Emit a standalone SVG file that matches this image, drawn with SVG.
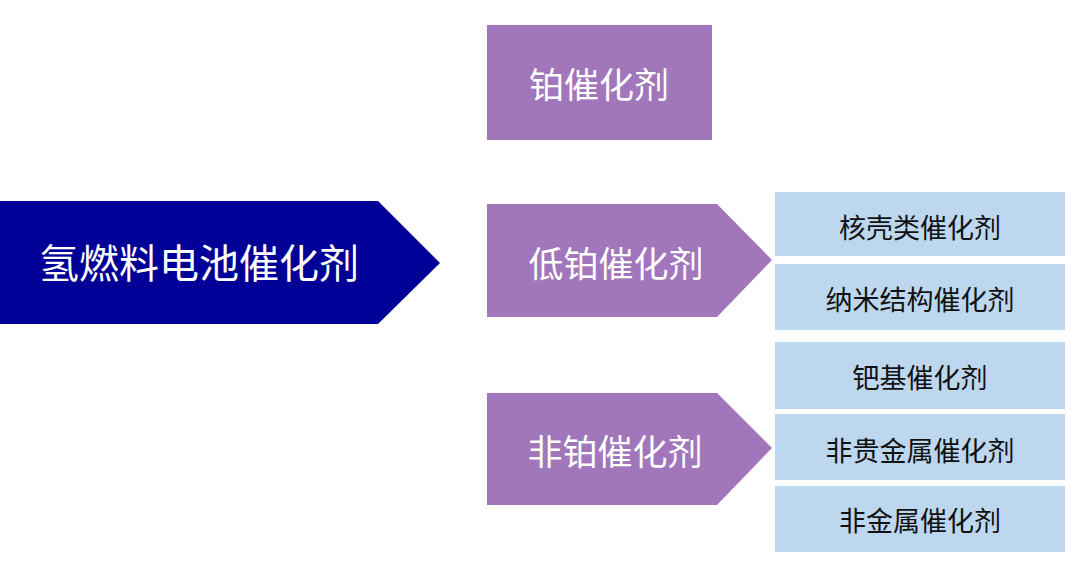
<svg xmlns="http://www.w3.org/2000/svg" width="1080" height="563" viewBox="0 0 1080 563">
<style>
text{font-family:"Noto Sans CJK SC","Microsoft YaHei",sans-serif;text-anchor:middle;dominant-baseline:central}
.main{fill:#000096}
.pur{fill:#A276BA}
.blue{fill:#BDD7EE}
.wt{fill:#ffffff}
.dk{fill:#111111;font-size:27px}
</style>
<rect width="1080" height="563" fill="#ffffff"/>
<g id="main">
<polygon class="main" points="0,201 378,201 440,263 378,324 0,324"/>
<text class="wt" x="199" y="261" font-size="40">氢燃料电池催化剂</text>
</g>
<g id="pt">
<rect class="pur" x="487" y="25" width="225" height="115"/>
<text class="wt" x="599" y="82" font-size="35">铂催化剂</text>
</g>
<g id="lowpt">
<polygon class="pur" points="487,204 717,204 772,260 717,317 487,317"/>
<text class="wt" x="616" y="261" font-size="35">低铂催化剂</text>
</g>
<g id="nonpt">
<polygon class="pur" points="487,393 717,393 772,448 717,505 487,505"/>
<text class="wt" x="615" y="449" font-size="35">非铂催化剂</text>
</g>
<g id="coreshell">
<rect class="blue" x="775" y="192" width="290" height="64"/>
<text class="dk" x="920" y="226">核壳类催化剂</text>
</g>
<g id="nano">
<rect class="blue" x="775" y="264" width="290" height="66"/>
<text class="dk" x="920" y="298">纳米结构催化剂</text>
</g>
<g id="pd">
<rect class="blue" x="775" y="342" width="290" height="67"/>
<text class="dk" x="920" y="376">钯基催化剂</text>
</g>
<g id="nonnoble">
<rect class="blue" x="775" y="414" width="290" height="66"/>
<text class="dk" x="920" y="449">非贵金属催化剂</text>
</g>
<g id="nonmetal">
<rect class="blue" x="775" y="486" width="290" height="66"/>
<text class="dk" x="920" y="519">非金属催化剂</text>
</g>
<g id="connectors"></g>
</svg>
